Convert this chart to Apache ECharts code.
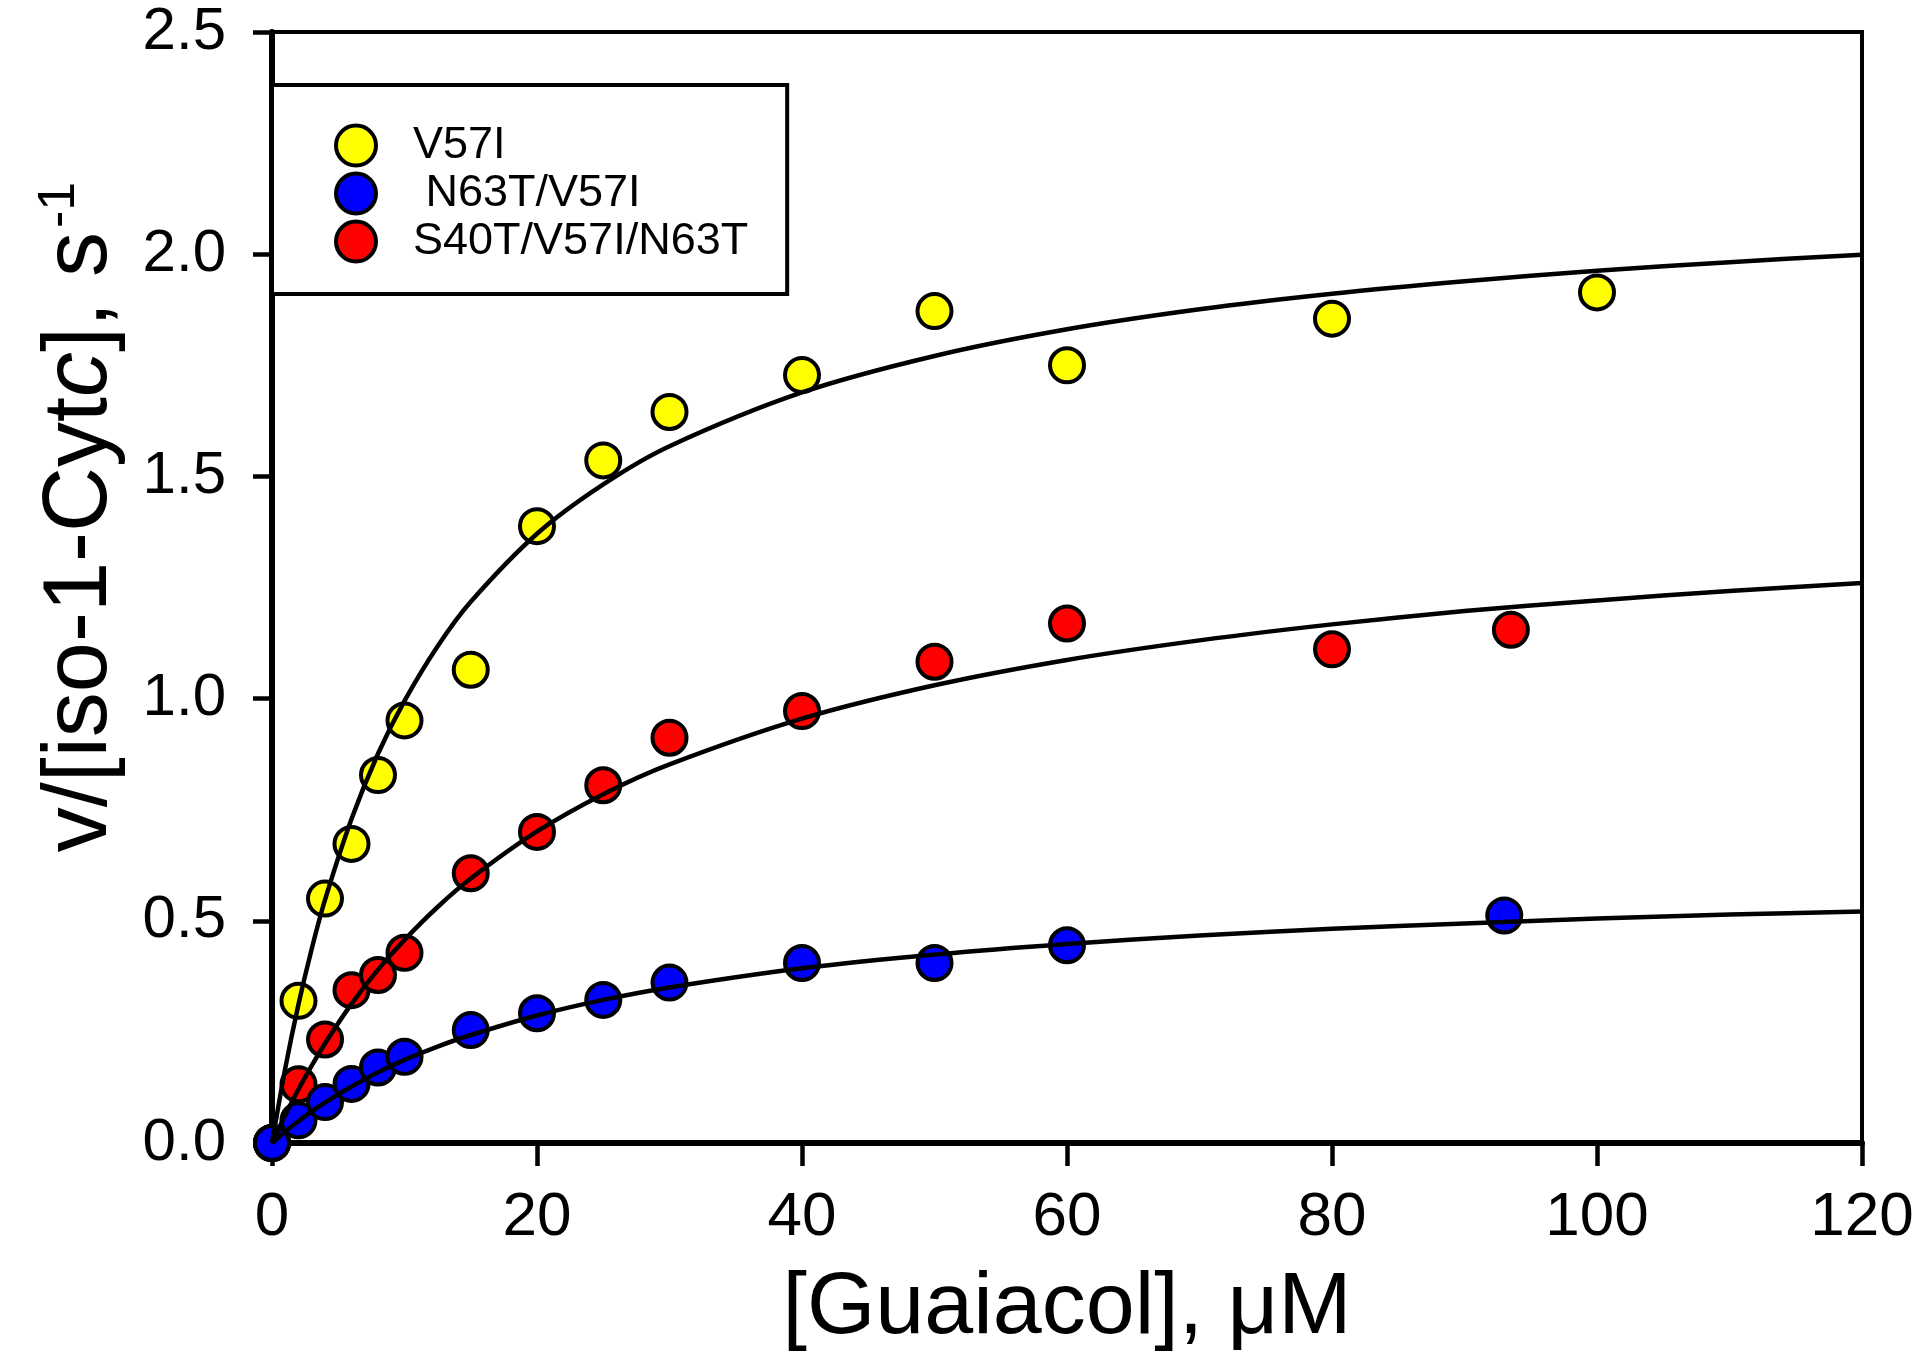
<!DOCTYPE html>
<html>
<head>
<meta charset="utf-8">
<script src="https://cdn.jsdelivr.net/npm/echarts@6/dist/echarts.min.js"></script>
<style>
html,body{margin:0;padding:0;background:#fff;}
#chart{width:1920px;height:1365px;}
</style>
</head>
<body>
<div id="chart"></div>
<script>
// ---- Data ----
const seriesNames = ['V57I', ' N63T/V57I', 'S40T/V57I/N63T'];
const xTickLabels = ['0', '20', '40', '60', '80', '100', '120'];
const yTickLabels = ['0.0', '0.5', '1.0', '1.5', '2.0', '2.5'];

// measured points [Guaiacol] (uM), v/[iso-1-Cytc] (s^-1)
const v57iX = [0, 2, 4, 6, 8, 10, 15, 20, 25, 30, 40, 50, 60, 80, 100];
const v57iY = [0, 0.32, 0.55, 0.673, 0.828, 0.951, 1.065, 1.388, 1.536, 1.645, 1.728, 1.872, 1.750, 1.855, 1.914];

const tripleX = [0, 2, 4, 6, 8, 10, 15, 20, 25, 30, 40, 50, 60, 80, 93.5];
const tripleY = [0, 0.132, 0.233, 0.344, 0.378, 0.428, 0.607, 0.700, 0.805, 0.912, 0.972, 1.083, 1.169, 1.111, 1.155];

const doubleX = [0, 2, 4, 6, 8, 10, 15, 20, 25, 30, 40, 50, 60, 93];
const doubleY = [0, 0.051, 0.092, 0.133, 0.170, 0.194, 0.254, 0.292, 0.322, 0.361, 0.405, 0.405, 0.445, 0.512];

// fitted curves, values
const curveX = [0, 1, 2, 3, 4, 6, 8, 10, 12.5, 15, 20, 25, 30, 40, 50, 60, 70, 80, 90, 100, 110, 120];
const curveV57I = [0, 0.168, 0.312, 0.437, 0.547, 0.729, 0.876, 0.995, 1.118, 1.218, 1.371, 1.482, 1.568, 1.689, 1.771, 1.831, 1.876, 1.911, 1.939, 1.963, 1.982, 1.999];
const curveTriple = [0, 0.063, 0.121, 0.174, 0.224, 0.313, 0.390, 0.457, 0.531, 0.595, 0.701, 0.785, 0.852, 0.955, 1.030, 1.087, 1.131, 1.167, 1.197, 1.221, 1.242, 1.260];
const curveDouble = [0, 0.026, 0.049, 0.071, 0.091, 0.127, 0.159, 0.187, 0.217, 0.243, 0.287, 0.322, 0.350, 0.393, 0.424, 0.448, 0.467, 0.482, 0.494, 0.505, 0.514, 0.521];

const colors = ['#FFFF00', '#0000FF', '#FF0000'];

// ---- build ----
const FONT = '"Liberation Sans", Arial, sans-serif';
const zip = (xs, ys) => xs.map((x, i) => [x, ys[i]]);

function scatter(name, xs, ys, color) {
  return {
    name: name, type: 'scatter', data: zip(xs, ys),
    symbol: 'circle', symbolSize: 34, z: 2,
    itemStyle: { color: color, borderColor: '#000', borderWidth: 4, opacity: 1 },
    emphasis: { disabled: true }
  };
}
function curve(ys) {
  return {
    type: 'line', data: zip(curveX, ys), showSymbol: false, smooth: 0.3, z: 5,
    lineStyle: { color: '#000', width: 4.5 }, silent: true,
    emphasis: { disabled: true }
  };
}

const chart = echarts.init(document.getElementById('chart'), null, { renderer: 'canvas' });
chart.setOption({
  backgroundColor: '#fff',
  animation: false,
  grid: { left: 272, right: 58, top: 32, bottom: 222, show: true, borderColor: '#000', borderWidth: 4, backgroundColor: 'transparent' },
  xAxis: {
    type: 'value', min: 0, max: 120, interval: 20,
    name: '[Guaiacol], \u03BCM', nameLocation: 'middle', nameGap: 122,
    nameTextStyle: { fontSize: 88, fontFamily: FONT, color: '#000' },
    axisLine: { show: true, onZero: false, lineStyle: { color: '#000', width: 6 } },
    axisTick: { show: true, length: 23, lineStyle: { color: '#000', width: 4.5 } },
    axisLabel: { fontSize: 62, fontFamily: FONT, color: '#000', margin: 44,
      formatter: v => xTickLabels[Math.round(v / 20)] },
    splitLine: { show: false }
  },
  yAxis: {
    type: 'value', min: 0, max: 2.5, interval: 0.5,
    axisLine: { show: true, onZero: false, lineStyle: { color: '#000', width: 6 } },
    axisTick: { show: true, length: 19, lineStyle: { color: '#000', width: 4.5 } },
    axisLabel: { fontSize: 60, fontFamily: FONT, color: '#000', margin: 46,
      formatter: v => yTickLabels[Math.round(v / 0.5)] },
    splitLine: { show: false }
  },
  legend: {
    orient: 'vertical', left: 272, top: 85,
    padding: [38, 39, 30, 62],
    borderColor: '#000', borderWidth: 4, backgroundColor: '#fff',
    itemWidth: 40, itemHeight: 40, itemGap: 3,
    itemStyle: { borderColor: '#000', borderWidth: 4 },
    selectedMode: false,
    textStyle: { fontSize: 45, lineHeight: 40, fontFamily: FONT, color: '#000', padding: [0, 0, 0, 32] },
    data: [seriesNames[0], seriesNames[1], seriesNames[2]]
  },
  graphic: [{
    type: 'text', x: 81, y: 517, rotation: Math.PI / 2,
    style: {
      text: '{a|v/[iso-1-Cyt}{i|c}{a|], s}{s|-1}',
      align: 'center', verticalAlign: 'middle',
      rich: {
        a: { fontSize: 90, fontFamily: FONT, fill: '#000' },
        i: { fontSize: 90, fontFamily: FONT, fontStyle: 'italic', fill: '#000' },
        s: { fontSize: 52, fontFamily: FONT, fill: '#000', padding: [0, 0, 42, 4] }
      }
    }
  }],
  series: [
    scatter(seriesNames[0], v57iX, v57iY, colors[0]),
    scatter(seriesNames[2], tripleX, tripleY, colors[2]),
    scatter(seriesNames[1], doubleX, doubleY, colors[1]),
    curve(curveV57I),
    curve(curveTriple),
    curve(curveDouble)
  ]
});
</script>
</body>
</html>
